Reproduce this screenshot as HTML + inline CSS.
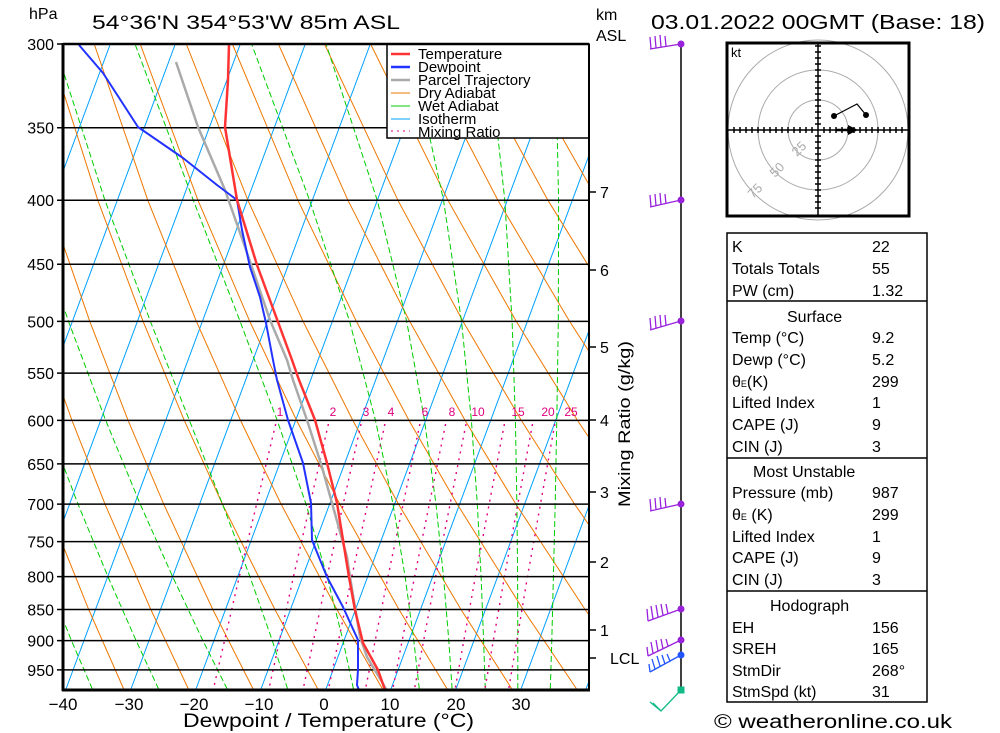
<!DOCTYPE html>
<html><head><meta charset="utf-8">
<style>
html,body{margin:0;padding:0;background:#fff;}
svg{display:block;font-family:"Liberation Sans",sans-serif;}
</style></head>
<body>
<svg width="1000" height="733" viewBox="0 0 1000 733" xmlns="http://www.w3.org/2000/svg">
<defs><clipPath id="pc"><rect x="63" y="44" width="526" height="646"/></clipPath></defs>
<rect width="1000" height="733" fill="#fff"/>
<g clip-path="url(#pc)" fill="none">
<!-- isotherms -->
<path stroke="#00a0ff" stroke-width="1" d="M-129,689L110.3,44M-64,689L175.3,44M1,689L240.3,44M66,689L305.3,44M131,689L370.3,44M196,689L435.3,44M261,689L500.3,44M326,689L565.3,44M391,689L630.3,44M456,689L695.3,44M521,689L760.3,44M586,689L825.3,44"/>
<!-- dry adiabats -->
<g stroke="#ee7700" stroke-width="1">
<polyline points="-90.1,44 -52.2,200.2 -16.8,321.4 15.8,420.4 46.3,504.1 88.7,609.5 123.7,689"/>
<polyline points="-44,44 -2.2,200.2 36.5,321.4 72,420.4 105,504.1 150.8,609.5 188.4,689"/>
<polyline points="2,44 47.8,200.2 89.8,321.4 128.1,420.4 163.7,504.1 212.8,609.5 253.1,689"/>
<polyline points="48.1,44 97.8,200.2 143.1,321.4 184.3,420.4 222.4,504.1 274.9,609.5 317.8,689"/>
<polyline points="94.2,44 147.8,200.2 196.4,321.4 240.5,420.4 281.1,504.1 336.9,609.5 382.5,689"/>
<polyline points="140.2,44 197.9,200.2 249.8,321.4 296.6,420.4 339.8,504.1 399,609.5 447.2,689"/>
<polyline points="186.3,44 247.9,200.2 303.1,321.4 352.8,420.4 398.5,504.1 461,609.5 511.9,689"/>
<polyline points="232.4,44 297.9,200.2 356.4,321.4 409,420.4 457.2,504.1 523.1,609.5 576.6,689"/>
<polyline points="278.4,44 347.9,200.2 409.7,321.4 465.1,420.4 515.9,504.1 585.1,609.5 641.3,689"/>
<polyline points="324.5,44 397.9,200.2 463,321.4 521.3,420.4 574.6,504.1 647.2,609.5"/>
<polyline points="370.6,44 447.9,200.2 516.3,321.4 577.5,420.4 633.3,504.1"/>
<polyline points="416.6,44 497.9,200.2 569.6,321.4 633.6,420.4"/>
<polyline points="462.7,44 547.9,200.2 622.9,321.4"/>
<polyline points="508.8,44 597.9,200.2"/>
<polyline points="554.8,44 647.9,200.2"/>
</g>
<!-- wet adiabats -->
<g stroke="#00cc00" stroke-width="1" stroke-dasharray="6,3">
<polyline points="550.3,689 551.8,640.6 553.4,576.6 555.2,504.1 556.8,420.4 558.3,321.4 558.6,200.2 555.3,44"/>
<polyline points="517.8,689 517.8,640.6 517.6,576.6 516.9,504.1 515.4,420.4 512.1,321.4 504.8,200.2 487.8,44"/>
<polyline points="485.3,689 483.6,640.6 481.1,576.6 477.3,504.1 471.4,420.4 461.5,321.4 443.5,200.2 409.3,44"/>
<polyline points="452.1,689 448.8,640.6 443.5,576.6 436,504.1 424.5,420.4 406.7,321.4 377.2,200.2 326.1,44"/>
<polyline points="419.3,689 413.8,640.6 405.1,576.6 393,504.1 375.5,420.4 349.6,321.4 309.6,200.2 251.6,44"/>
<polyline points="353.5,689 343,640.6 327.1,576.6 306,504.1 277.2,420.4 240.1,321.4 193.3,200.2 135,44"/>
<polyline points="287.6,689 272.3,640.6 249.9,576.6 222.5,504.1 189.4,420.4 150.4,321.4 104.9,200.2 54.4,44"/>
<polyline points="227.2,689 202.9,640.6 172.6,576.6 140.2,504.1 105.7,420.4 68.5,321.4 27.8,200.2"/>
<polyline points="158.6,689 136.1,640.6 107.9,576.6 78,504.1 46.1,420.4 12,321.4"/>
<polyline points="92.3,689 71.5,640.6 45.4,576.6 17.8,504.1"/>
</g>
<!-- mixing ratio -->
<g stroke="#e0007f" stroke-width="1.4" stroke-dasharray="2,5">
<polyline points="275.7,424 239.3,576.6 213.4,689"/>
<polyline points="328.4,424 293.5,576.6 268.9,689"/>
<polyline points="361,424 327.1,576.6 303.2,689"/>
<polyline points="384.9,424 351.8,576.6 328.5,689"/>
<polyline points="419.9,424 388,576.6 365.5,689"/>
<polyline points="445.6,424 414.6,576.6 392.8,689"/>
<polyline points="466,424 435.7,576.6 414.5,689"/>
<polyline points="504.4,424 475.4,576.6 455.1,689"/>
<polyline points="532.5,424 504.5,576.6 484.9,689"/>
<polyline points="554.8,424 527.5,576.6 508.7,689"/>
</g>
<g fill="#e0007f" font-size="12" text-anchor="middle">
<text x="280" y="416">1</text><text x="333" y="416">2</text><text x="366" y="416">3</text><text x="391" y="416">4</text>
<text x="425" y="416">6</text><text x="452" y="416">8</text><text x="478" y="416">10</text><text x="518" y="416">15</text>
<text x="548" y="416">20</text><text x="571" y="416">25</text>
</g>
<!-- isobars -->
<path stroke="#000" stroke-width="1.5" d="M63,127.7H589M63,200.2H589M63,264.2H589M63,321.4H589M63,373.1H589M63,420.4H589M63,463.9H589M63,504.1H589M63,541.6H589M63,576.6H589M63,609.5H589M63,640.6H589M63,669.9H589"/>
<!-- profiles -->
<g stroke-linejoin="round">
<polyline stroke="#aaaaaa" stroke-width="2.5" points="176,62 198,127 225,190 245,247 270,320 287,360 293,380 307,420 322,467 332,503 347,557 350,577 360,637 367,657 382,682 386,689"/>
<polyline stroke="#2233ff" stroke-width="2" points="79,45 103,73 138,127 183,158 217,185 237,200 242,230 250,267 260,297 266,323 273,360 277,380 288,420 303,463 311,503 312,540 327,577 343,607 358,640 358,670 357,685 359,690"/>
<polyline stroke="#ff3333" stroke-width="2.5" points="229,44 228,80 225,127 237,200 257,265 278,322 292,360 299,380 315,420 327,463 337,503 343,540 349,577 355,610 363,643 378,670 385,690"/>
</g>
</g>
<!-- legend -->
<rect x="387" y="44" width="202" height="94" fill="#fff" stroke="#000" stroke-width="1.5"/>
<g stroke-width="2.5">
<line x1="391" y1="54" x2="410" y2="54" stroke="#ff3333"/>
<line x1="391" y1="67" x2="410" y2="67" stroke="#2233ff"/>
<line x1="391" y1="80" x2="410" y2="80" stroke="#aaaaaa"/>
<line x1="391" y1="93" x2="410" y2="93" stroke="#ee7700" stroke-width="1"/>
<line x1="391" y1="106" x2="410" y2="106" stroke="#00cc00" stroke-width="1"/>
<line x1="391" y1="119" x2="410" y2="119" stroke="#00a0ff" stroke-width="1"/>
<line x1="391" y1="131" x2="410" y2="131" stroke="#e0007f" stroke-width="1" stroke-dasharray="2,4"/>
</g>
<g font-size="15" fill="#000">
<text x="418" y="59">Temperature</text>
<text x="418" y="72">Dewpoint</text>
<text x="418" y="85">Parcel Trajectory</text>
<text x="418" y="98">Dry Adiabat</text>
<text x="418" y="111">Wet Adiabat</text>
<text x="418" y="124">Isotherm</text>
<text x="418" y="137">Mixing Ratio</text>
</g>
<!-- left ticks & labels -->
<path stroke="#000" stroke-width="1.5" d="M57,44H63M57,127.7H63M57,200.2H63M57,264.2H63M57,321.4H63M57,373.1H63M57,420.4H63M57,463.9H63M57,504.1H63M57,541.6H63M57,576.6H63M57,609.5H63M57,640.6H63M57,669.9H63"/>
<g font-size="16" text-anchor="end">
<text x="54" y="50">300</text><text x="54" y="133.7">350</text><text x="54" y="206.2">400</text><text x="54" y="270.2">450</text>
<text x="54" y="327.4">500</text><text x="54" y="379.1">550</text><text x="54" y="426.4">600</text><text x="54" y="469.9">650</text>
<text x="54" y="510.1">700</text><text x="54" y="547.6">750</text><text x="54" y="582.6">800</text><text x="54" y="615.5">850</text>
<text x="54" y="646.6">900</text><text x="54" y="675.9">950</text>
</g>
<g font-size="17" text-anchor="middle">
<text x="63" y="710">−40</text><text x="129" y="710">−30</text><text x="194" y="710">−20</text><text x="259" y="710">−10</text>
<text x="324" y="710">0</text><text x="390" y="710">10</text><text x="456" y="710">20</text><text x="521" y="710">30</text>
</g>
<!-- frame -->
<line x1="63" y1="44" x2="589" y2="44" stroke="#000" stroke-width="2.5"/>
<line x1="63" y1="43" x2="63" y2="691" stroke="#000" stroke-width="3"/>
<line x1="62" y1="690" x2="590" y2="690" stroke="#000" stroke-width="3"/>
<line x1="589" y1="44" x2="589" y2="690" stroke="#000" stroke-width="2"/>
<!-- titles -->
<text x="29" y="19" font-size="16">hPa</text>
<text x="92" y="29" font-size="19" textLength="308" lengthAdjust="spacingAndGlyphs">54°36'N  354°53'W  85m  ASL</text>
<text x="651" y="29" font-size="20" textLength="334" lengthAdjust="spacingAndGlyphs">03.01.2022  00GMT  (Base: 18)</text>
<text x="596" y="20" font-size="16">km</text>
<text x="596" y="41" font-size="16">ASL</text>
<text x="183" y="727" font-size="19" textLength="291" lengthAdjust="spacingAndGlyphs">Dewpoint / Temperature (°C)</text>
<text x="714" y="728" font-size="19" textLength="238" lengthAdjust="spacingAndGlyphs">© weatheronline.co.uk</text>
<text transform="translate(630,424) rotate(-90)" text-anchor="middle" font-size="17" textLength="166" lengthAdjust="spacingAndGlyphs">Mixing Ratio (g/kg)</text>
<!-- km axis -->
<path stroke="#000" stroke-width="1.5" d="M589,192H596M589,270H596M589,347H596M589,420H596M589,492H596M589,562H596M589,630H596M589,658H596"/>
<g font-size="16">
<text x="600" y="198">7</text><text x="600" y="276">6</text><text x="600" y="353">5</text>
<text x="600" y="426">4</text><text x="600" y="498">3</text><text x="600" y="568">2</text>
<text x="600" y="636">1</text><text x="610" y="664">LCL</text>
</g>
<!-- wind staff and barbs -->
<line x1="681" y1="44" x2="681" y2="690" stroke="#000" stroke-width="1.5"/>
<g stroke="#9922dd" stroke-width="1.3" fill="none">
<path d="M681,44L650,49M651,49L650,37M656,48L655,36M661,47L660,35M666,46L665,36"/>
<path d="M681,200L650,207M651,207L650,195M656,206L655,194M661,205L660,193M666,204L665,194"/>
<path d="M681,321L650,330M651,330L650,318M656,328L655,316M661,327L660,315M666,325L665,315"/>
<path d="M681,504L650,511M651,511L650,499M656,510L655,498M661,509L660,497M666,508L665,498"/>
<path d="M681,609L648,621M648,621L647,609M653,619L651,606M658,617L656,605M663,615L661,604M668,614L666,604"/>
<path d="M681,640L648,656M648,656L647,647M653,653L651,642M658,651L656,640M663,649L661,639M668,646L666,639"/>
</g>
<g fill="#9922dd"><circle cx="681" cy="44" r="3.5"/><circle cx="681" cy="200" r="3.5"/><circle cx="681" cy="321" r="3.5"/><circle cx="681" cy="504" r="3.5"/><circle cx="681" cy="609" r="3.5"/><circle cx="681" cy="640" r="3.5"/></g>
<path stroke="#2255ff" stroke-width="1.3" fill="none" d="M681,655L650,672M650,672L649,664M655,669L652,659M660,666L657,656M665,664L662,655M670,661L667,654"/>
<circle cx="681" cy="655" r="3.5" fill="#2255ff"/>
<path stroke="#11bb88" stroke-width="1.3" fill="none" d="M681,690L661,711L650,702M661,711L653,703"/>
<rect x="677.5" y="686.5" width="7" height="7" fill="#11bb88"/>
<!-- hodograph -->
<rect x="727" y="43" width="182" height="173" fill="#fff"/>
<g fill="none" stroke="#aaa" stroke-width="1">
<circle cx="818" cy="130" r="30"/><circle cx="818" cy="130" r="60"/><circle cx="818" cy="130" r="90"/>
</g>
<rect x="727" y="43" width="182" height="173" fill="none" stroke="#000" stroke-width="3"/>
<g fill="#aaa" font-size="13">
<text transform="translate(797,157) rotate(-45)">25</text>
<text transform="translate(775,178) rotate(-45)">50</text>
<text transform="translate(753,199) rotate(-45)">75</text>
</g>
<path stroke="#000" stroke-width="1.5" d="M727,130H909M818,43V216
M734,127v6M740,127v6M746,127v6M752,127v6M758,127v6M764,127v6M770,127v6M776,127v6M782,127v6M788,127v6M794,127v6M800,127v6M806,127v6M812,127v6
M824,127v6M830,127v6M836,127v6M842,127v6M848,127v6M854,127v6M860,127v6M866,127v6M872,127v6M878,127v6M884,127v6M890,127v6M896,127v6M902,127v6
M815,46h6M815,52h6M815,58h6M815,64h6M815,70h6M815,76h6M815,82h6M815,88h6M815,94h6M815,100h6M815,106h6M815,112h6M815,118h6M815,124h6
M815,136h6M815,142h6M815,148h6M815,154h6M815,160h6M815,166h6M815,172h6M815,178h6M815,184h6M815,190h6M815,196h6M815,202h6M815,208h6"/>
<text x="731" y="57" font-size="13">kt</text>
<polyline points="834,116 857,104 866,115" fill="none" stroke="#000" stroke-width="1.2"/>
<circle cx="834" cy="116" r="3"/><circle cx="866" cy="115" r="3"/>
<line x1="836" y1="130" x2="850" y2="130" stroke="#000" stroke-width="2.5"/>
<polygon points="848,125 858,130 848,135" fill="#000"/>
<!-- table -->
<g fill="none" stroke="#000" stroke-width="1.5">
<rect x="727" y="233" width="200" height="469"/>
<line x1="727" y1="301" x2="927" y2="301"/>
<line x1="727" y1="458" x2="927" y2="458"/>
<line x1="727" y1="591" x2="927" y2="591"/>
</g>
<g font-size="16">
<text x="732" y="252">K</text><text x="872" y="252">22</text>
<text x="732" y="274">Totals Totals</text><text x="872" y="274">55</text>
<text x="732" y="296">PW (cm)</text><text x="872" y="296">1.32</text>
<text x="787" y="322">Surface</text>
<text x="732" y="343">Temp (°C)</text><text x="872" y="343">9.2</text>
<text x="732" y="365">Dewp (°C)</text><text x="872" y="365">5.2</text>
<text x="732" y="387">θ<tspan font-size="9">E</tspan>(K)</text><text x="872" y="387">299</text>
<text x="732" y="408">Lifted Index</text><text x="872" y="408">1</text>
<text x="732" y="430">CAPE (J)</text><text x="872" y="430">9</text>
<text x="732" y="452">CIN (J)</text><text x="872" y="452">3</text>
<text x="753" y="477">Most Unstable</text>
<text x="732" y="498">Pressure (mb)</text><text x="872" y="498">987</text>
<text x="732" y="520">θ<tspan font-size="9">E</tspan> (K)</text><text x="872" y="520">299</text>
<text x="732" y="542">Lifted Index</text><text x="872" y="542">1</text>
<text x="732" y="563">CAPE (J)</text><text x="872" y="563">9</text>
<text x="732" y="585">CIN (J)</text><text x="872" y="585">3</text>
<text x="770" y="611">Hodograph</text>
<text x="732" y="633">EH</text><text x="872" y="633">156</text>
<text x="732" y="654">SREH</text><text x="872" y="654">165</text>
<text x="732" y="676">StmDir</text><text x="872" y="676">268°</text>
<text x="732" y="697">StmSpd (kt)</text><text x="872" y="697">31</text>
</g>
</svg>
</body></html>
